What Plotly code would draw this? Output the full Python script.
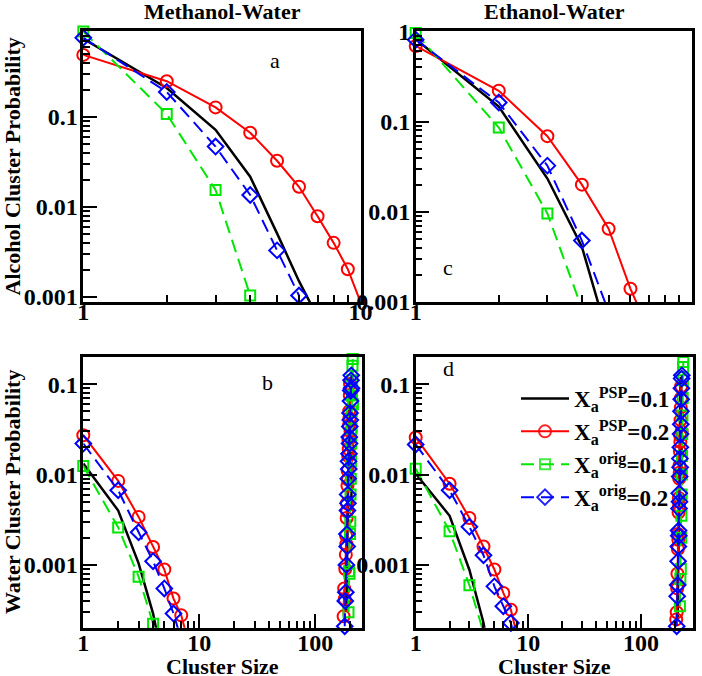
import plotly.graph_objects as go

# ---------------- data ----------------
sizes = [1, 2, 3, 4, 5, 6, 7, 8, 9, 10]

# Panel a: Methanol-Water, alcohol clusters
a_psp01 = [0.74, 0.21, 0.072, 0.0217, 0.0051, 0.0015, 0.0006]
a_psp02 = [0.49, 0.25, 0.128, 0.067, 0.0327, 0.0168, 0.0079, 0.0040, 0.00204, 0.00088]
a_orig01 = [0.89, 0.108, 0.0155, 0.00104]
a_orig02 = [0.76, 0.19, 0.047, 0.0136, 0.0033, 0.00104]

# Panel c: Ethanol-Water, alcohol clusters
c_psp01 = [0.82, 0.147, 0.0234, 0.0041, 0.00039]
c_psp02 = [0.69, 0.22, 0.069, 0.020, 0.0065, 0.0014, 0.00048]
c_orig01 = [0.96, 0.086, 0.0096, 0.00085]
c_orig02 = [0.81, 0.163, 0.0325, 0.0048, 0.00078]

# Panel b: Methanol-Water, water clusters (small sizes)
b_psp01 = [0.0132, 0.0040, 0.00104, 0.00029, 0.00007]
b_psp02 = [0.0272, 0.0085, 0.0034, 0.00158, 0.00089, 0.000425, 0.000277, 0.000145]
b_orig01 = [0.0124, 0.0026, 0.00074, 0.000224, 0.00006]
b_orig02 = [0.022, 0.0067, 0.0023, 0.0011, 0.00055, 0.00029, 0.00015]

# Panel b: large (spanning) water clusters
bL_psp01_x = [186, 188, 190, 192, 194, 196, 198, 200, 202, 204, 206]
bL_psp01_y = [0.0003, 0.0012, 0.0035, 0.009, 0.02, 0.04, 0.07, 0.1, 0.12, 0.05, 0.004]
bL_psp02_x = [176, 178, 180, 182, 184, 185, 186, 187, 188, 189, 190, 191, 192, 193, 194, 195, 196, 197, 198, 199, 200, 202]
bL_psp02_y = [0.00027, 0.00055, 0.00042, 0.0009, 0.0013, 0.0021, 0.0017, 0.0033, 0.0048, 0.0039, 0.0075, 0.011,
              0.0088, 0.016, 0.024, 0.019, 0.035, 0.05, 0.042, 0.075, 0.1, 0.03]
bL_orig01_x = [194, 196, 198, 200, 201, 202, 203, 204, 205, 206, 207, 208, 209, 210, 211, 212]
bL_orig01_y = [0.0003, 0.00085, 0.0008, 0.0022, 0.003, 0.006, 0.009, 0.014, 0.022, 0.032, 0.05, 0.075, 0.11, 0.16,
               0.19, 0.06]
bL_orig02_x = [180, 182, 184, 186, 188, 189, 190, 191, 192, 193, 194, 195, 196, 197, 198, 199, 200, 201, 202, 203,
               204, 205, 206]
bL_orig02_y = [0.00021, 0.0004, 0.0005, 0.001, 0.0022, 0.0016, 0.004, 0.006, 0.0048, 0.009, 0.014, 0.0115, 0.017,
               0.026, 0.022, 0.034, 0.048, 0.04, 0.065, 0.085, 0.11, 0.125, 0.09]

# Panel d: Ethanol-Water, water clusters (small sizes)
d_psp01 = [0.0102, 0.0035, 0.00088, 0.00023, 0.00005]
d_psp02 = [0.0257, 0.0079, 0.0033, 0.0016, 0.00089, 0.00049, 0.00032, 0.00016]
d_orig01 = [0.0116, 0.00236, 0.000596, 0.00018]
d_orig02 = [0.0215, 0.0067, 0.00264, 0.00128, 0.00058, 0.00035, 0.000228, 0.00012]

# Panel d: large (spanning) water clusters
dL_psp01_x = [212, 214, 216, 218, 220, 222, 224, 226, 228, 230]
dL_psp01_y = [0.00025, 0.0009, 0.003, 0.008, 0.02, 0.045, 0.08, 0.12, 0.1, 0.01]
dL_psp02_x = [206, 208, 210, 211, 212, 213, 214, 215, 216, 217, 218, 219, 220, 221, 222, 223, 224, 225, 226, 227,
              228, 230]
dL_psp02_y = [0.00025, 0.0003, 0.00055, 0.0008, 0.0006, 0.0015, 0.0022, 0.0019, 0.0038, 0.0055, 0.0045, 0.009,
              0.0125, 0.0105, 0.018, 0.027, 0.023, 0.04, 0.055, 0.07, 0.095, 0.03]
dL_orig01_x = [222, 224, 226, 228, 229, 230, 231, 232, 233, 234, 235, 236, 237, 238]
dL_orig01_y = [0.00035, 0.0007, 0.0009, 0.002, 0.0035, 0.006, 0.01, 0.016, 0.028, 0.045, 0.07, 0.11, 0.155, 0.175]
dL_orig02_x = [208, 210, 212, 214, 215, 216, 217, 218, 219, 220, 221, 222, 223, 224, 225, 226, 227, 228, 229, 230,
               231]
dL_orig02_y = [0.00021, 0.00045, 0.0006, 0.0011, 0.0016, 0.0024, 0.0021, 0.0042, 0.0062, 0.005, 0.0095, 0.015,
               0.012, 0.02, 0.028, 0.036, 0.05, 0.068, 0.09, 0.115, 0.125]

series_names = ["X<sub>a</sub><sup>PSP</sup>=0.1", "X<sub>a</sub><sup>PSP</sup>=0.2",
                "X<sub>a</sub><sup>orig</sup>=0.1", "X<sub>a</sub><sup>orig</sup>=0.2"]

col_titles = ["Methanol-Water", "Ethanol-Water"]
row_titles = ["Alcohol Cluster Probability", "Water Cluster Probability"]
x_title = "Cluster Size"
panel_letters = ["a", "b", "c", "d"]

top_x_ticks = [1, 10]
bot_x_ticks = [1, 10, 100]
y_ticks_top_left = [0.001, 0.01, 0.1]
y_ticks_top_right = [0.001, 0.01, 0.1, 1]
y_ticks_bottom = [0.001, 0.01, 0.1]

# ---------------- styles ----------------
FONT = "Liberation Serif"
RED = "#ff0000"
GREEN = "#00e600"
BLUE = "#0000ff"
DASH = "13px,7px"

styles = [
    dict(mode="lines", line=dict(color="black", width=2.5)),
    dict(mode="lines+markers", line=dict(color=RED, width=2),
         marker=dict(symbol="circle-open", size=12, color=RED, line=dict(width=2, color=RED))),
    dict(mode="lines+markers", line=dict(color=GREEN, width=2, dash=DASH),
         marker=dict(symbol="square-open", size=10, color=GREEN, line=dict(width=2, color=GREEN))),
    dict(mode="lines+markers", line=dict(color=BLUE, width=2, dash=DASH),
         marker=dict(symbol="diamond-open", size=12, color=BLUE, line=dict(width=2, color=BLUE))),
]

yr_top_left = [-3.055, -0.044]
yr_top_right = [-3.0, 0.005]
yr_bottom = [-3.694, -0.697]

fig = go.Figure()


def add(xs, ys, k, xa, ya, ymin_log, legend=False):
    st = styles[k]
    marker = dict(st.get("marker", {}))
    if marker:
        marker["opacity"] = [1 if y >= 10 ** ymin_log else 0 for y in ys]
    fig.add_trace(go.Scatter(x=xs, y=ys, mode=st["mode"], line=st["line"],
                             marker=marker if marker else None,
                             name=series_names[k], showlegend=legend,
                             xaxis=xa, yaxis=ya, cliponaxis=False))


panel_a = [a_psp01, a_psp02, a_orig01, a_orig02]
panel_c = [c_psp01, c_psp02, c_orig01, c_orig02]
panel_b = [b_psp01, b_psp02, b_orig01, b_orig02]
panel_d = [d_psp01, d_psp02, d_orig01, d_orig02]
panel_bL = [(bL_psp01_x, bL_psp01_y), (bL_psp02_x, bL_psp02_y), (bL_orig01_x, bL_orig01_y), (bL_orig02_x, bL_orig02_y)]
panel_dL = [(dL_psp01_x, dL_psp01_y), (dL_psp02_x, dL_psp02_y), (dL_orig01_x, dL_orig01_y), (dL_orig02_x, dL_orig02_y)]

for k in range(4):
    add(sizes[:len(panel_a[k])], panel_a[k], k, "x", "y", yr_top_left[0])
    add(sizes[:len(panel_c[k])], panel_c[k], k, "x2", "y2", yr_top_right[0])
    add(sizes[:len(panel_b[k])], panel_b[k], k, "x3", "y3", yr_bottom[0])
    add(panel_bL[k][0], panel_bL[k][1], k, "x3", "y3", yr_bottom[0])
    add(sizes[:len(panel_d[k])], panel_d[k], k, "x4", "y4", yr_bottom[0], legend=True)
    add(panel_dL[k][0], panel_dL[k][1], k, "x4", "y4", yr_bottom[0])

W, H = 702, 676


def px(x0, x1):
    return [x0 / W, x1 / W]


def py(y0, y1):
    return [1 - y1 / H, 1 - y0 / H]


tickfont = dict(family=FONT, size=24, color="black", weight="bold")


def minor_vals(decades):
    return [m * 10 ** d for d in decades for m in range(2, 10)]


def axis(domain, rng, anchor, tickvals, ticktext, minor, standoff):
    return dict(type="log", domain=domain, range=rng, anchor=anchor, automargin=False,
                showline=True, mirror=True, linecolor="black", linewidth=2.5,
                ticks="inside", ticklen=14, tickwidth=2, tickcolor="black",
                showgrid=False, zeroline=False, tickfont=tickfont,
                tickmode="array", tickvals=tickvals, ticktext=ticktext,
                ticklabelstandoff=standoff,
                minor=dict(ticks="inside", ticklen=7, tickwidth=1.5, tickcolor="black",
                           showgrid=False, tickmode="array", tickvals=minor))


def labels(vals):
    return ["%g" % v for v in vals]


fig.update_layout(
    width=W, height=H, margin=dict(l=0, r=0, t=0, b=0, autoexpand=False),
    paper_bgcolor="white", plot_bgcolor="white",
    showlegend=True,
    xaxis=axis(px(83.3, 360.5), [0, 1], "y", top_x_ticks, labels(top_x_ticks), minor_vals([0]), -14),
    yaxis=axis(py(31, 302), yr_top_left, "x", y_ticks_top_left, labels(y_ticks_top_left),
               minor_vals([-3, -2, -1]), -2),
    xaxis2=axis(px(415.7, 691.7), [0, 1], "y2", top_x_ticks, labels(top_x_ticks), minor_vals([0]), -14),
    yaxis2=axis(py(31, 302), yr_top_right, "x2", y_ticks_top_right, labels(y_ticks_top_right),
                minor_vals([-3, -2, -1]), -2),
    xaxis3=axis(px(83.3, 361.5), [0, 2.40], "y3", bot_x_ticks, labels(bot_x_ticks), minor_vals([0, 1, 2]), -8),
    yaxis3=axis(py(356.7, 627.7), yr_bottom, "x3", y_ticks_bottom, labels(y_ticks_bottom),
                minor_vals([-4, -3, -2, -1]), -2),
    xaxis4=axis(px(415.7, 692.7), [0, 2.46], "y4", bot_x_ticks, labels(bot_x_ticks), minor_vals([0, 1, 2]), -8),
    yaxis4=axis(py(356.7, 627.7), yr_bottom, "x4", y_ticks_bottom, labels(y_ticks_bottom),
                minor_vals([-4, -3, -2, -1]), -2),
    legend=dict(x=516 / W, y=1 - 377 / H, xanchor="left", yanchor="top",
                bgcolor="rgba(0,0,0,0)", borderwidth=0,
                font=dict(family=FONT, size=23, color="black", weight="bold"),
                itemwidth=48, tracegroupgap=0),
)

ann = []
bold = dict(family=FONT, size=22, color="black", weight="bold")
for i, cx in enumerate([222, 554]):
    ann.append(dict(text=col_titles[i], x=cx / W, y=1 - 11 / H, xref="paper", yref="paper",
                    showarrow=False, font=bold, xanchor="center", yanchor="middle"))
    ann.append(dict(text=x_title, x=cx / W, y=1 - 666 / H, xref="paper", yref="paper",
                    showarrow=False, font=bold, xanchor="center", yanchor="middle"))
for i, cy in enumerate([166.5, 492]):
    ann.append(dict(text=row_titles[i], x=12 / W, y=1 - cy / H, xref="paper", yref="paper",
                    showarrow=False, font=bold, textangle=-90, xanchor="center", yanchor="middle"))
letter_pos = [(275, 60), (267, 383), (448, 267), (448, 369)]
for t, (lx, ly) in zip(panel_letters, letter_pos):
    ann.append(dict(text=t, x=lx / W, y=1 - ly / H, xref="paper", yref="paper", showarrow=False,
                    font=dict(family=FONT, size=22, color="black"), xanchor="center", yanchor="middle"))
fig.update_layout(annotations=ann)

fig.write_html("out.html", config={"displayModeBar": False},
               post_script="document.body.style.margin='0px';document.body.style.overflow='hidden';")
